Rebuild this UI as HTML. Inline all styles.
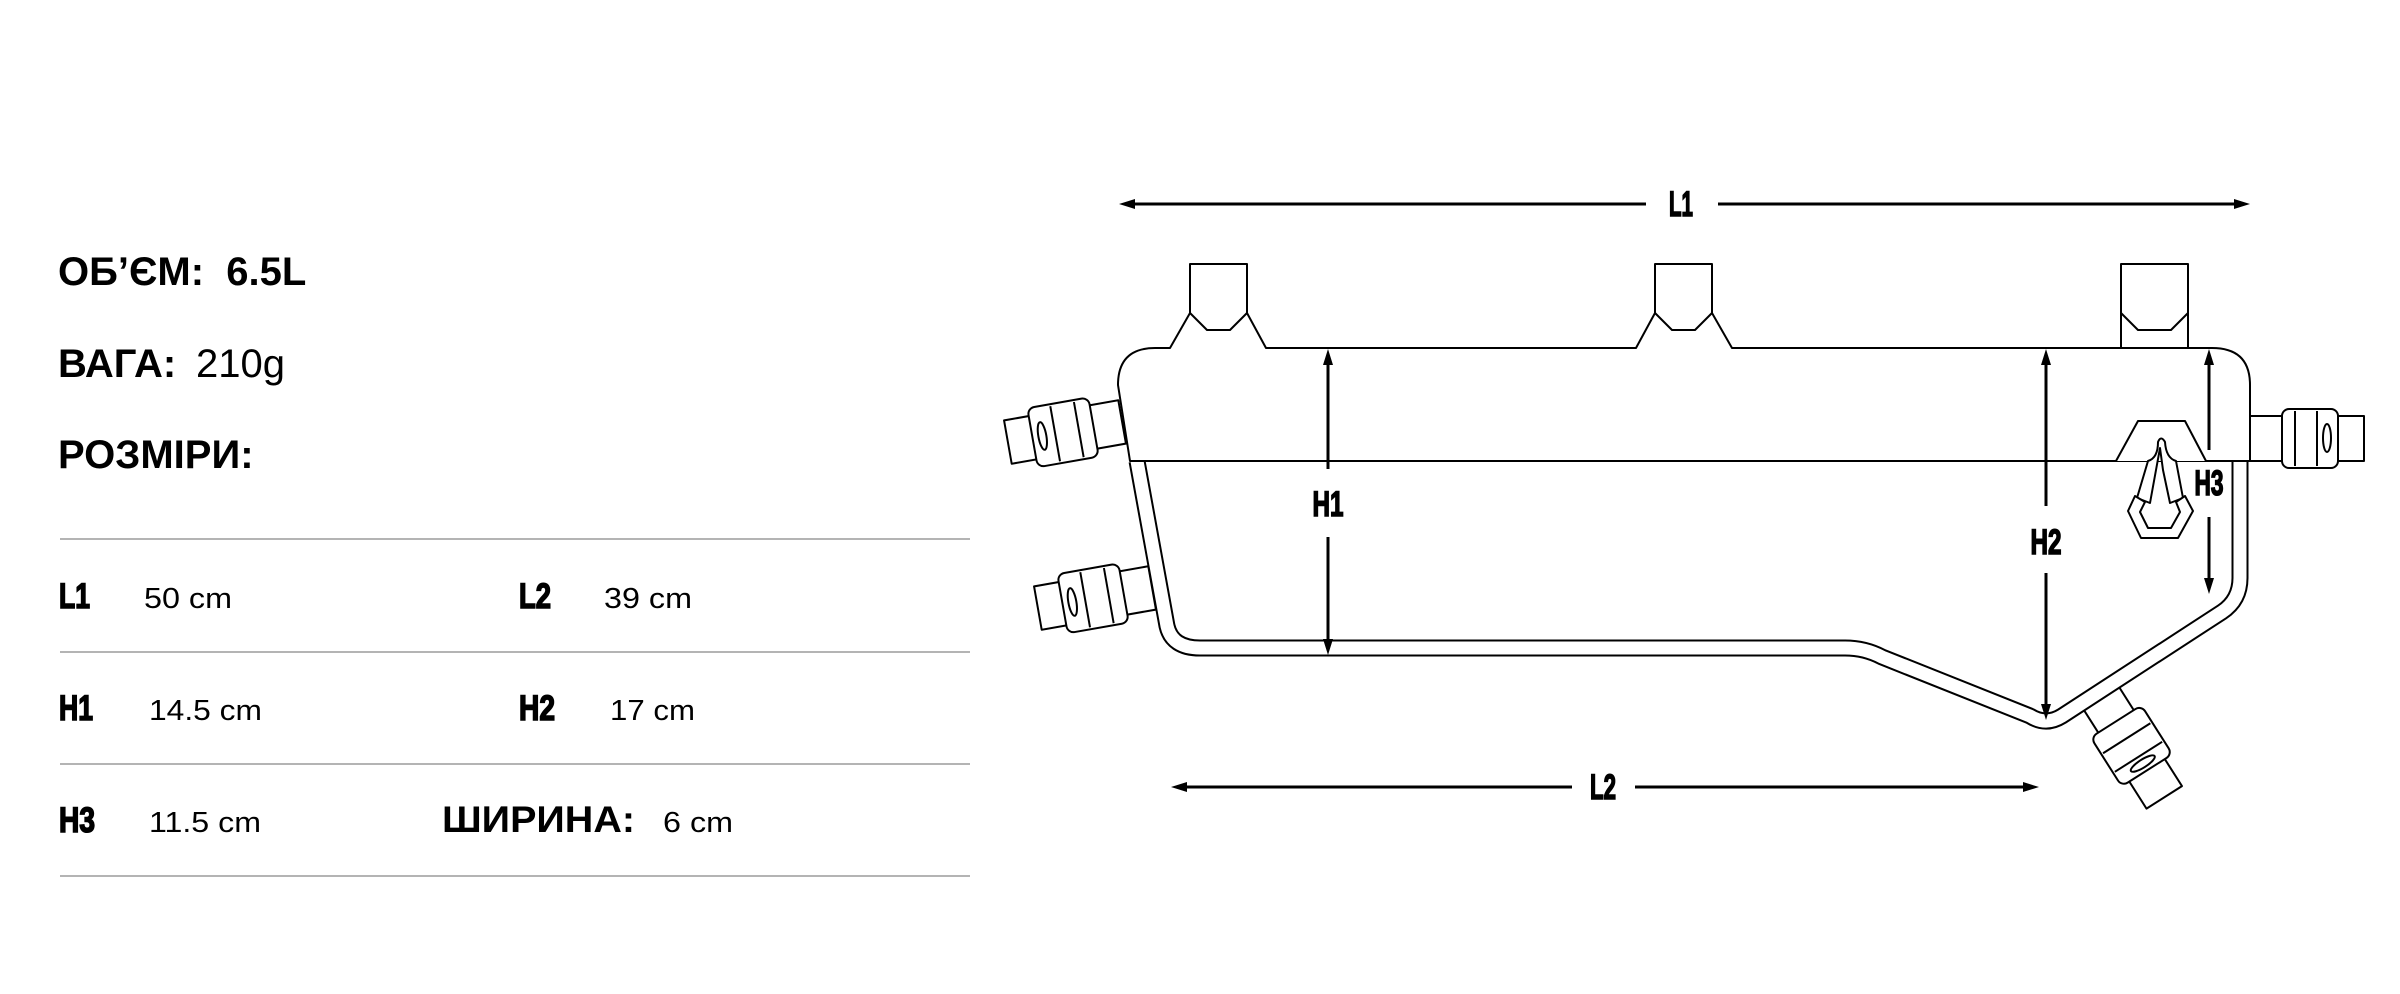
<!DOCTYPE html>
<html><head><meta charset="utf-8"><style>
html,body{margin:0;padding:0;background:#fff;}
svg{display:block}
.b{font-family:"Liberation Sans",sans-serif;font-weight:bold;fill:#000}
.r{font-family:"Liberation Sans",sans-serif;fill:#000}
.n{font-family:"Liberation Sans Narrow","Liberation Sans",sans-serif;font-weight:bold;fill:#000;stroke:#000;stroke-width:1.6}
</style></head><body>
<svg width="2400" height="994" viewBox="0 0 2400 994" xmlns="http://www.w3.org/2000/svg">
<rect width="2400" height="994" fill="#fff"/>
<!-- left text -->
<text class="b" x="58" y="285" font-size="40">ОБ’ЄМ:&#160; 6.5L</text>
<text class="b" x="58" y="377" font-size="40">ВАГА:</text>
<text class="r" x="196" y="377" font-size="40">210g</text>
<text class="b" x="58" y="468" font-size="40">РОЗМІРИ:</text>
<g stroke="#b4b4b4" stroke-width="2">
<line x1="60" y1="539" x2="970" y2="539"/><line x1="60" y1="652" x2="970" y2="652"/>
<line x1="60" y1="764" x2="970" y2="764"/><line x1="60" y1="876" x2="970" y2="876"/>
</g>
<text class="n" x="59" y="608" font-size="35" textLength="31" lengthAdjust="spacingAndGlyphs">L1</text>
<text class="r" x="144" y="608" font-size="29" textLength="88" lengthAdjust="spacingAndGlyphs">50 cm</text>
<text class="n" x="519" y="608" font-size="35" textLength="32" lengthAdjust="spacingAndGlyphs">L2</text>
<text class="r" x="604" y="608" font-size="29" textLength="88" lengthAdjust="spacingAndGlyphs">39 cm</text>
<text class="n" x="59" y="720" font-size="35" textLength="34" lengthAdjust="spacingAndGlyphs">H1</text>
<text class="r" x="149" y="720" font-size="29" textLength="113" lengthAdjust="spacingAndGlyphs">14.5 cm</text>
<text class="n" x="519" y="720" font-size="35" textLength="36" lengthAdjust="spacingAndGlyphs">H2</text>
<text class="r" x="610" y="720" font-size="29" textLength="85" lengthAdjust="spacingAndGlyphs">17 cm</text>
<text class="n" x="59" y="832" font-size="35" textLength="36" lengthAdjust="spacingAndGlyphs">H3</text>
<text class="r" x="149" y="832" font-size="29" textLength="112" lengthAdjust="spacingAndGlyphs">11.5 cm</text>
<text class="b" x="442" y="832" font-size="37" textLength="193" lengthAdjust="spacingAndGlyphs">ШИРИНА:</text>
<text class="r" x="663" y="832" font-size="29" textLength="70" lengthAdjust="spacingAndGlyphs">6 cm</text>

<!-- bag -->
<g fill="none" stroke="#000" stroke-width="2" stroke-linejoin="round">
<g transform="translate(1065,432) rotate(-10)" fill="#fff">
<rect x="-58" y="-22" width="116" height="44"/>
<rect x="-33" y="-30" width="62" height="60" rx="7"/>
<line x1="-10" y1="-28" x2="-10" y2="28"/><line x1="14" y1="-28" x2="14" y2="28"/>
<ellipse cx="-23" cy="0" rx="4" ry="14"/>
</g>
<g transform="translate(1095,598) rotate(-10)" fill="#fff">
<rect x="-58" y="-22" width="116" height="44"/>
<rect x="-33" y="-30" width="62" height="60" rx="7"/>
<line x1="-10" y1="-28" x2="-10" y2="28"/><line x1="14" y1="-28" x2="14" y2="28"/>
<ellipse cx="-23" cy="0" rx="4" ry="14"/>
</g>
<g transform="translate(2306,438) scale(-1,1)" fill="#fff">
<rect x="-58" y="-22" width="116" height="45"/>
<rect x="-32" y="-29" width="56" height="59" rx="7"/>
<line x1="-11" y1="-27" x2="-11" y2="28"/><line x1="11" y1="-27" x2="11" y2="28"/>
<ellipse cx="-21" cy="0" rx="4" ry="14"/>
</g>
<g transform="translate(2131,745) rotate(57.6)" fill="#fff">
<rect x="-62" y="-21" width="124" height="42"/>
<rect x="-28" y="-30" width="58" height="60" rx="7"/>
<line x1="-8" y1="-28" x2="-8" y2="28"/><line x1="14" y1="-28" x2="14" y2="28"/>
<ellipse cx="22" cy="0" rx="4" ry="14"/>
</g>
<path fill="#fff" d="M1118,385 Q1118,348 1155,348 L1170,348 L1190,313 L1207,330 L1230,330 L1247,313 L1266,348 L1636,348 L1655,313 L1672,330 L1695,330 L1712,313 L1732,348 L2212,348 Q2250,348 2250,385 L2250,461 L1130,461 Z"/>
<path d="M1190,313 L1190,264 L1247,264 L1247,313 M1655,313 L1655,264 L1712,264 L1712,313 M2121,348 L2121,264 L2188,264 L2188,348 M2121,313 L2138,330 L2171,330 L2188,313"/>
</g>
<!-- frame double line -->
<path d="M1137,461 L1167,626 Q1172,648 1200,648 L1845,648 Q1865,648 1882,657 L2030,716 Q2046,726 2062,716 L2222,612 Q2240,600 2240,578 L2240,461" fill="none" stroke="#000" stroke-width="17" stroke-linejoin="round"/>
<path d="M1137,461 L1167,626 Q1172,648 1200,648 L1845,648 Q1865,648 1882,657 L2030,716 Q2046,726 2062,716 L2222,612 Q2240,600 2240,578 L2240,461" fill="none" stroke="#fff" stroke-width="13" stroke-linejoin="round"/>
<rect x="1134" y="452" width="12" height="9" fill="#fff"/>
<line x1="1130" y1="461" x2="2250" y2="461" stroke="#000" stroke-width="2"/>
<!-- clip -->
<g fill="#fff" stroke="#000" stroke-width="2" stroke-linejoin="round">
<path d="M2116,461 L2138,421 L2185,421 L2206,461"/>
<path d="M2148,461 Q2158,458 2158,442 Q2161,435 2165,442 Q2166,458 2176,461 L2183,498 L2170,503 L2163,470 L2160,448 L2156,470 L2150,503 L2137,498 Z"/>
<path d="M2135,496 L2128,511 L2141,538 L2178,538 L2193,511 L2185,496 L2176,502 L2180,512 L2171,528 L2148,528 L2140,512 L2145,502 Z"/>
</g>
<!-- dimension arrows -->
<g stroke="#000" stroke-width="3">
<line x1="1130" y1="204" x2="1646" y2="204"/><line x1="1718" y1="204" x2="2240" y2="204"/>
<line x1="1184" y1="787" x2="1572" y2="787"/><line x1="1635" y1="787" x2="2026" y2="787"/>
<line x1="1328" y1="362" x2="1328" y2="469"/><line x1="1328" y1="537" x2="1328" y2="642"/>
<line x1="2046" y1="362" x2="2046" y2="506"/><line x1="2046" y1="573" x2="2046" y2="707"/>
<line x1="2209" y1="362" x2="2209" y2="450"/><line x1="2209" y1="517" x2="2209" y2="580"/>
</g>
<g fill="#000">
<polygon points="1119,204 1135,199 1135,209"/><polygon points="2250,204 2234,199 2234,209"/>
<polygon points="1171,787 1187,782 1187,792"/><polygon points="2039,787 2023,782 2023,792"/>
<polygon points="1328,349 1323,365 1333,365"/><polygon points="1328,655 1323,639 1333,639"/>
<polygon points="2046,349 2041,365 2051,365"/><polygon points="2046,720 2041,704 2051,704"/>
<polygon points="2209,349 2204,365 2214,365"/><polygon points="2209,594 2204,578 2214,578"/>
</g>
<g text-anchor="middle">
<text class="n" x="1681" y="216" font-size="35" textLength="24" lengthAdjust="spacingAndGlyphs">L1</text>
<text class="n" x="1603" y="799" font-size="35" textLength="26" lengthAdjust="spacingAndGlyphs">L2</text>
<text class="n" x="1328" y="516" font-size="35" textLength="31" lengthAdjust="spacingAndGlyphs">H1</text>
<text class="n" x="2046" y="554" font-size="35" textLength="31" lengthAdjust="spacingAndGlyphs">H2</text>
<text class="n" x="2209" y="495" font-size="35" textLength="29" lengthAdjust="spacingAndGlyphs">H3</text>
</g>
</svg>
</body></html>
